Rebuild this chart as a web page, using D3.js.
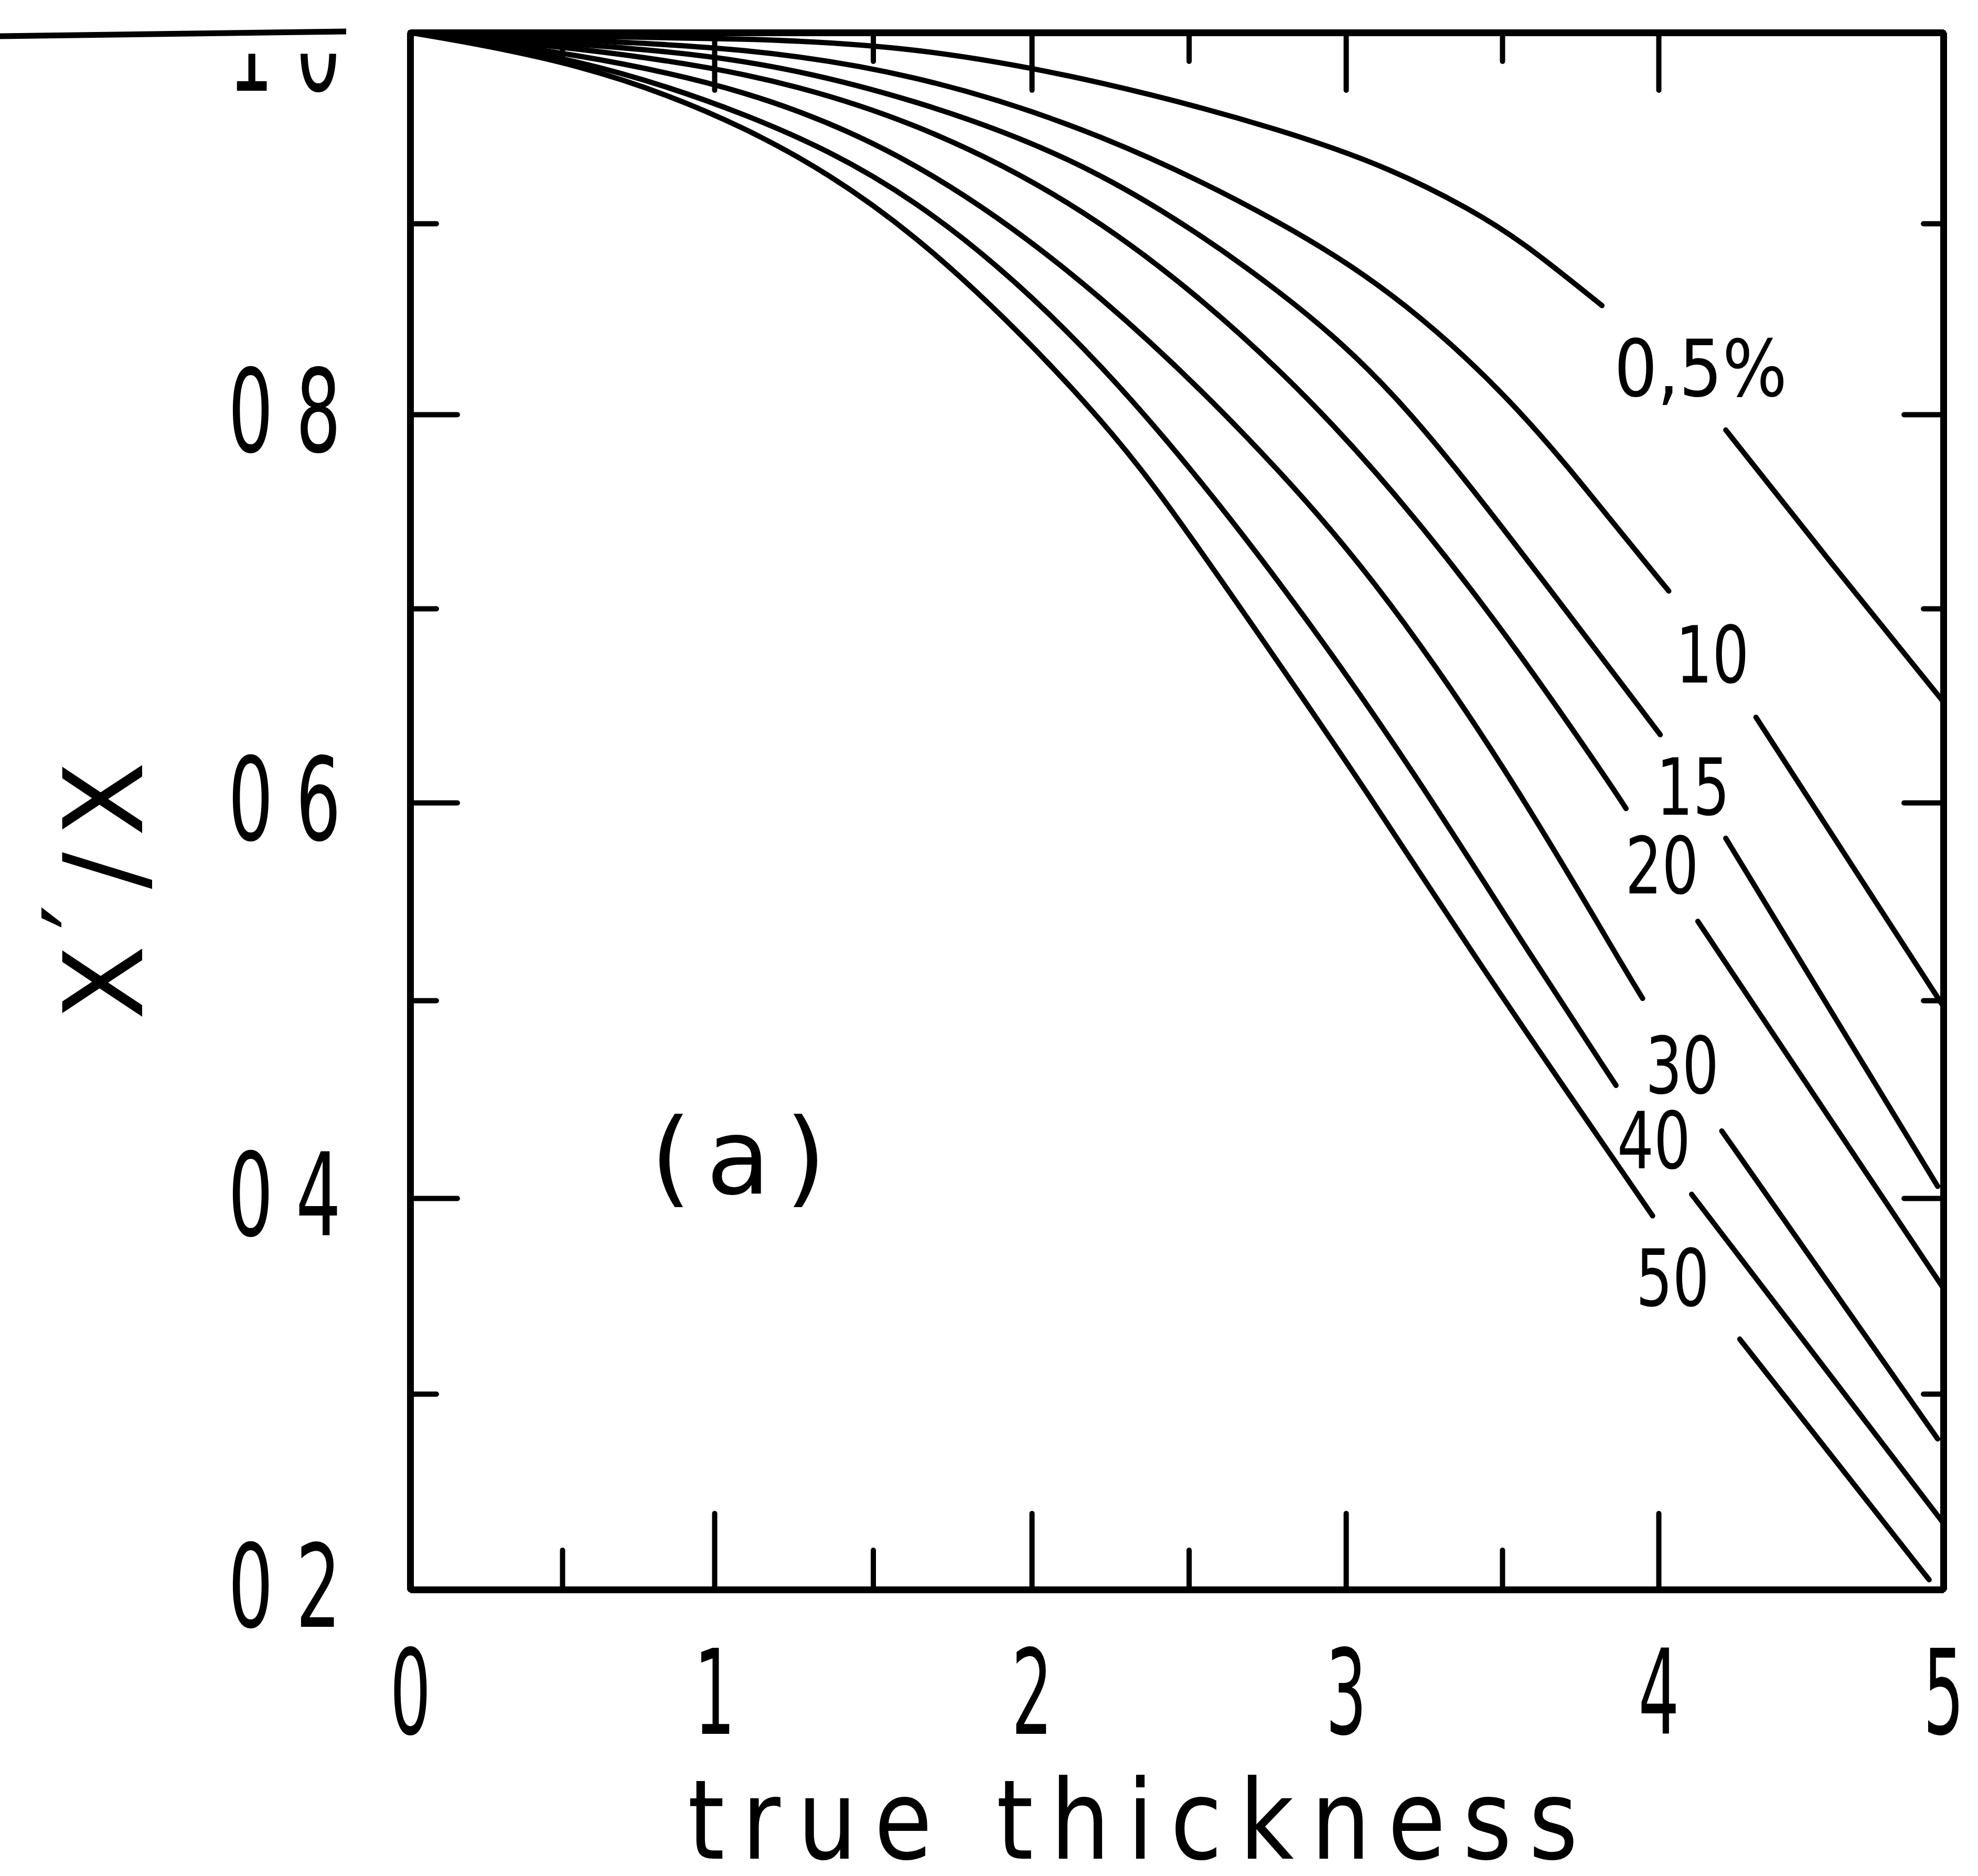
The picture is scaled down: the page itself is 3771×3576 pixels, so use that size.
<!DOCTYPE html>
<html>
<head>
<meta charset="utf-8">
<script src="https://cdn.jsdelivr.net/npm/d3@7"></script>
<style>
  html, body { margin: 0; padding: 0; background: #fff; }
  svg { display: block; }
  text { font-family: "DejaVu Sans", sans-serif; fill: #000; }
</style>
</head>
<body>
<svg id="chart" width="3771" height="3576"></svg>
<script>
// curve labels (% values)
const seriesNames = ["0,5%", "10", "15", "20", "30", "40", "50"];

// [true thickness, X'/X]; null = gap where the label sits
const s05 = [[0, 1.0], [0.547, 0.998], [1.094, 0.997], [1.623, 0.993], [2.221, 0.975], [2.824, 0.948], [3.154, 0.928], [3.392, 0.908], [3.561, 0.891], [3.819, 0.857], null, [4.236, 0.792], [4.586, 0.727], [5.0, 0.652]];
const s10 = [[0, 1.0], [0.547, 0.996], [1.094, 0.992], [1.623, 0.979], [2.221, 0.948], [2.824, 0.899], [3.194, 0.859], [3.561, 0.803], [3.860, 0.743], [4.036, 0.709], null, [4.342, 0.644], [5.0, 0.497]];
const s15 = [[0, 1.0], [0.547, 0.994], [1.094, 0.987], [1.623, 0.966], [2.221, 0.930], [2.824, 0.862], [3.157, 0.812], [3.497, 0.743], [4.006, 0.635], null, [4.236, 0.582], [4.98, 0.406]];
const s20 = [[0, 1.0], [0.547, 0.992], [1.094, 0.980], [1.623, 0.955], [2.221, 0.905], [2.824, 0.821], [3.246, 0.743], [3.561, 0.676], [3.848, 0.609], [3.896, 0.597], null, [4.138, 0.540], [5.0, 0.354]];
const s30 = [[0, 1.0], [0.547, 0.989], [1.094, 0.971], [1.623, 0.936], [2.221, 0.865], [2.824, 0.767], [3.186, 0.695], [3.553, 0.607], [3.872, 0.521], [3.949, 0.501], null, [4.222, 0.434], [4.98, 0.277]];
const s40 = [[0, 1.0], [0.547, 0.987], [1.094, 0.959], [1.623, 0.918], [2.221, 0.831], [2.824, 0.708], [3.246, 0.609], [3.581, 0.525], [3.864, 0.457], null, [4.116, 0.402], [5.0, 0.234]];
const s50 = [[0, 1.0], [0.547, 0.985], [1.094, 0.953], [1.623, 0.900], [2.221, 0.800], [2.482, 0.743], [2.824, 0.663], [3.053, 0.609], [3.408, 0.523], [3.698, 0.456], [3.981, 0.391], null, [4.285, 0.328], [4.95, 0.205]];

const xTicks = [0, 1, 2, 3, 4, 5];
const xMinor = [0.5, 1.5, 2.5, 3.5];
const yTicks = [0.2, 0.4, 0.6, 0.8, 1.0];
const yMinor = [0.3, 0.5, 0.7, 0.9];
const yTickLabels = ["0 2", "0 4", "0 6", "0 8", "1 0"];
const xTitle = "true thickness";
const panelTag = "(a)";

const series = [s05, s10, s15, s20, s30, s40, s50];

const svg = d3.select('#chart');

// scanned axes are not perfectly even, so piecewise scales
const x = d3.scaleLinear().domain([0, 1, 2, 3, 4, 5]).range([782, 1362, 1967, 2566, 3162, 3705]);
const y = d3.scaleLinear().domain([0.2, 0.4, 0.6, 0.8, 1.0]).range([3030, 2284, 1530, 790, 62]);

const styleAxis = (g, w) => {
    g.attr('font-size', null).attr('font-family', null);
    g.selectAll('path.domain').attr('stroke-width', 13);
    g.selectAll('.tick line').attr('stroke-width', w).attr('stroke-linecap', 'round');
};

// the "1 0" label is half lost in the scan
const defs = svg.append('defs');
defs.append('clipPath').attr('id', 'topClip')
    .append('rect').attr('x', -1000).attr('y', 40).attr('width', 2000).attr('height', 1000);

// left axis
svg.append('g').attr('transform', `translate(${x(0)},0)`)
    .call(d3.axisLeft(y).tickValues(yMinor).tickSizeInner(-50).tickSizeOuter(0).tickFormat(''))
    .call(styleAxis, 10);
const gLeft = svg.append('g').attr('transform', `translate(${x(0)},0)`)
    .call(d3.axisLeft(y).tickValues(yTicks).tickSizeInner(-90).tickSizeOuter(0).tickPadding(132)
        .tickFormat((d, i) => yTickLabels[i]))
    .call(styleAxis, 10);
gLeft.selectAll('.tick text')
    .attr('font-size', 220)
    .attr('textLength', 215)
    .attr('lengthAdjust', 'spacingAndGlyphs');
gLeft.selectAll('.tick text').filter(d => d === 1.0)
    .attr('dy', '0.5em')
    .attr('clip-path', 'url(#topClip)');

// right axis
svg.append('g').attr('transform', `translate(${x(5)},0)`)
    .call(d3.axisRight(y).tickValues(yMinor).tickSizeInner(-38).tickSizeOuter(0).tickFormat(''))
    .call(styleAxis, 10);
svg.append('g').attr('transform', `translate(${x(5)},0)`)
    .call(d3.axisRight(y).tickValues(yTicks).tickSizeInner(-75).tickSizeOuter(0).tickFormat(''))
    .call(styleAxis, 10);

// bottom axis
svg.append('g').attr('transform', `translate(0,${y(0.2)})`)
    .call(d3.axisBottom(x).tickValues(xMinor).tickSizeInner(-75).tickSizeOuter(0).tickFormat(''))
    .call(styleAxis, 10);
const gBottom = svg.append('g').attr('transform', `translate(0,${y(0.2)})`)
    .call(d3.axisBottom(x).tickValues(xTicks).tickSizeInner(-145).tickSizeOuter(0).tickPadding(115)
        .tickFormat(d3.format('d')))
    .call(styleAxis, 10);
gBottom.selectAll('.tick text')
    .attr('font-size', 225)
    .attr('textLength', 78)
    .attr('lengthAdjust', 'spacingAndGlyphs');

// top axis
svg.append('g').attr('transform', `translate(0,${y(1.0)})`)
    .call(d3.axisTop(x).tickValues(xMinor).tickSizeInner(-55).tickSizeOuter(0).tickFormat(''))
    .call(styleAxis, 10);
svg.append('g').attr('transform', `translate(0,${y(1.0)})`)
    .call(d3.axisTop(x).tickValues(xTicks).tickSizeInner(-110).tickSizeOuter(0).tickFormat(''))
    .call(styleAxis, 10);

// stray rule at the top left of the scan
svg.append('line')
    .attr('x1', 0).attr('y1', 69).attr('x2', 660).attr('y2', 60)
    .attr('stroke', '#000').attr('stroke-width', 11);

// curves
const line = d3.line()
    .defined(d => d !== null)
    .x(d => x(d[0]))
    .y(d => y(d[1]))
    .curve(d3.curveBasis);

svg.append('g').selectAll('path')
    .data(series)
    .join('path')
    .attr('d', line)
    .attr('fill', 'none')
    .attr('stroke', '#000')
    .attr('stroke-width', 10)
    .attr('stroke-linecap', 'round');

// curve labels sit in the gap of each curve
const labelShift = {"0,5%": 70, "50": -45};
const labelWidth = {"0,5%": 330};
seriesNames.forEach((name, i) => {
    const s = series[i];
    const k = s.indexOf(null);
    const a = s[k - 1], b = s[k + 1];
    const cx = (x(a[0]) + x(b[0])) / 2 + (labelShift[name] || 0);
    const cy = (y(a[1]) + y(b[1])) / 2;
    svg.append('text')
        .attr('x', cx)
        .attr('y', cy)
        .attr('dy', '0.36em')
        .attr('text-anchor', 'middle')
        .attr('font-size', 150)
        .attr('textLength', labelWidth[name] || 140)
        .attr('lengthAdjust', 'spacingAndGlyphs')
        .text(name);
});

// panel tag
svg.append('text')
    .attr('x', 1240).attr('y', 2275)
    .attr('font-size', 200)
    .attr('textLength', 335)
    .attr('lengthAdjust', 'spacing')
    .text(panelTag);

// axis titles
svg.append('text')
    .attr('x', 1311).attr('y', 3543)
    .attr('font-size', 210)
    .attr('letter-spacing', 38)
    .attr('textLength', 1730)
    .attr('lengthAdjust', 'spacingAndGlyphs')
    .text(xTitle);

const yt = svg.append('text')
    .attr('transform', 'translate(271,1683) rotate(-90)')
    .attr('text-anchor', 'middle')
    .attr('font-size', 208)
    .attr('letter-spacing', 30);
yt.append('tspan').text('X');
yt.append('tspan').attr('dy', -40).text('′');
yt.append('tspan').attr('dy', 40).text('/X');
</script>
</body>
</html>
